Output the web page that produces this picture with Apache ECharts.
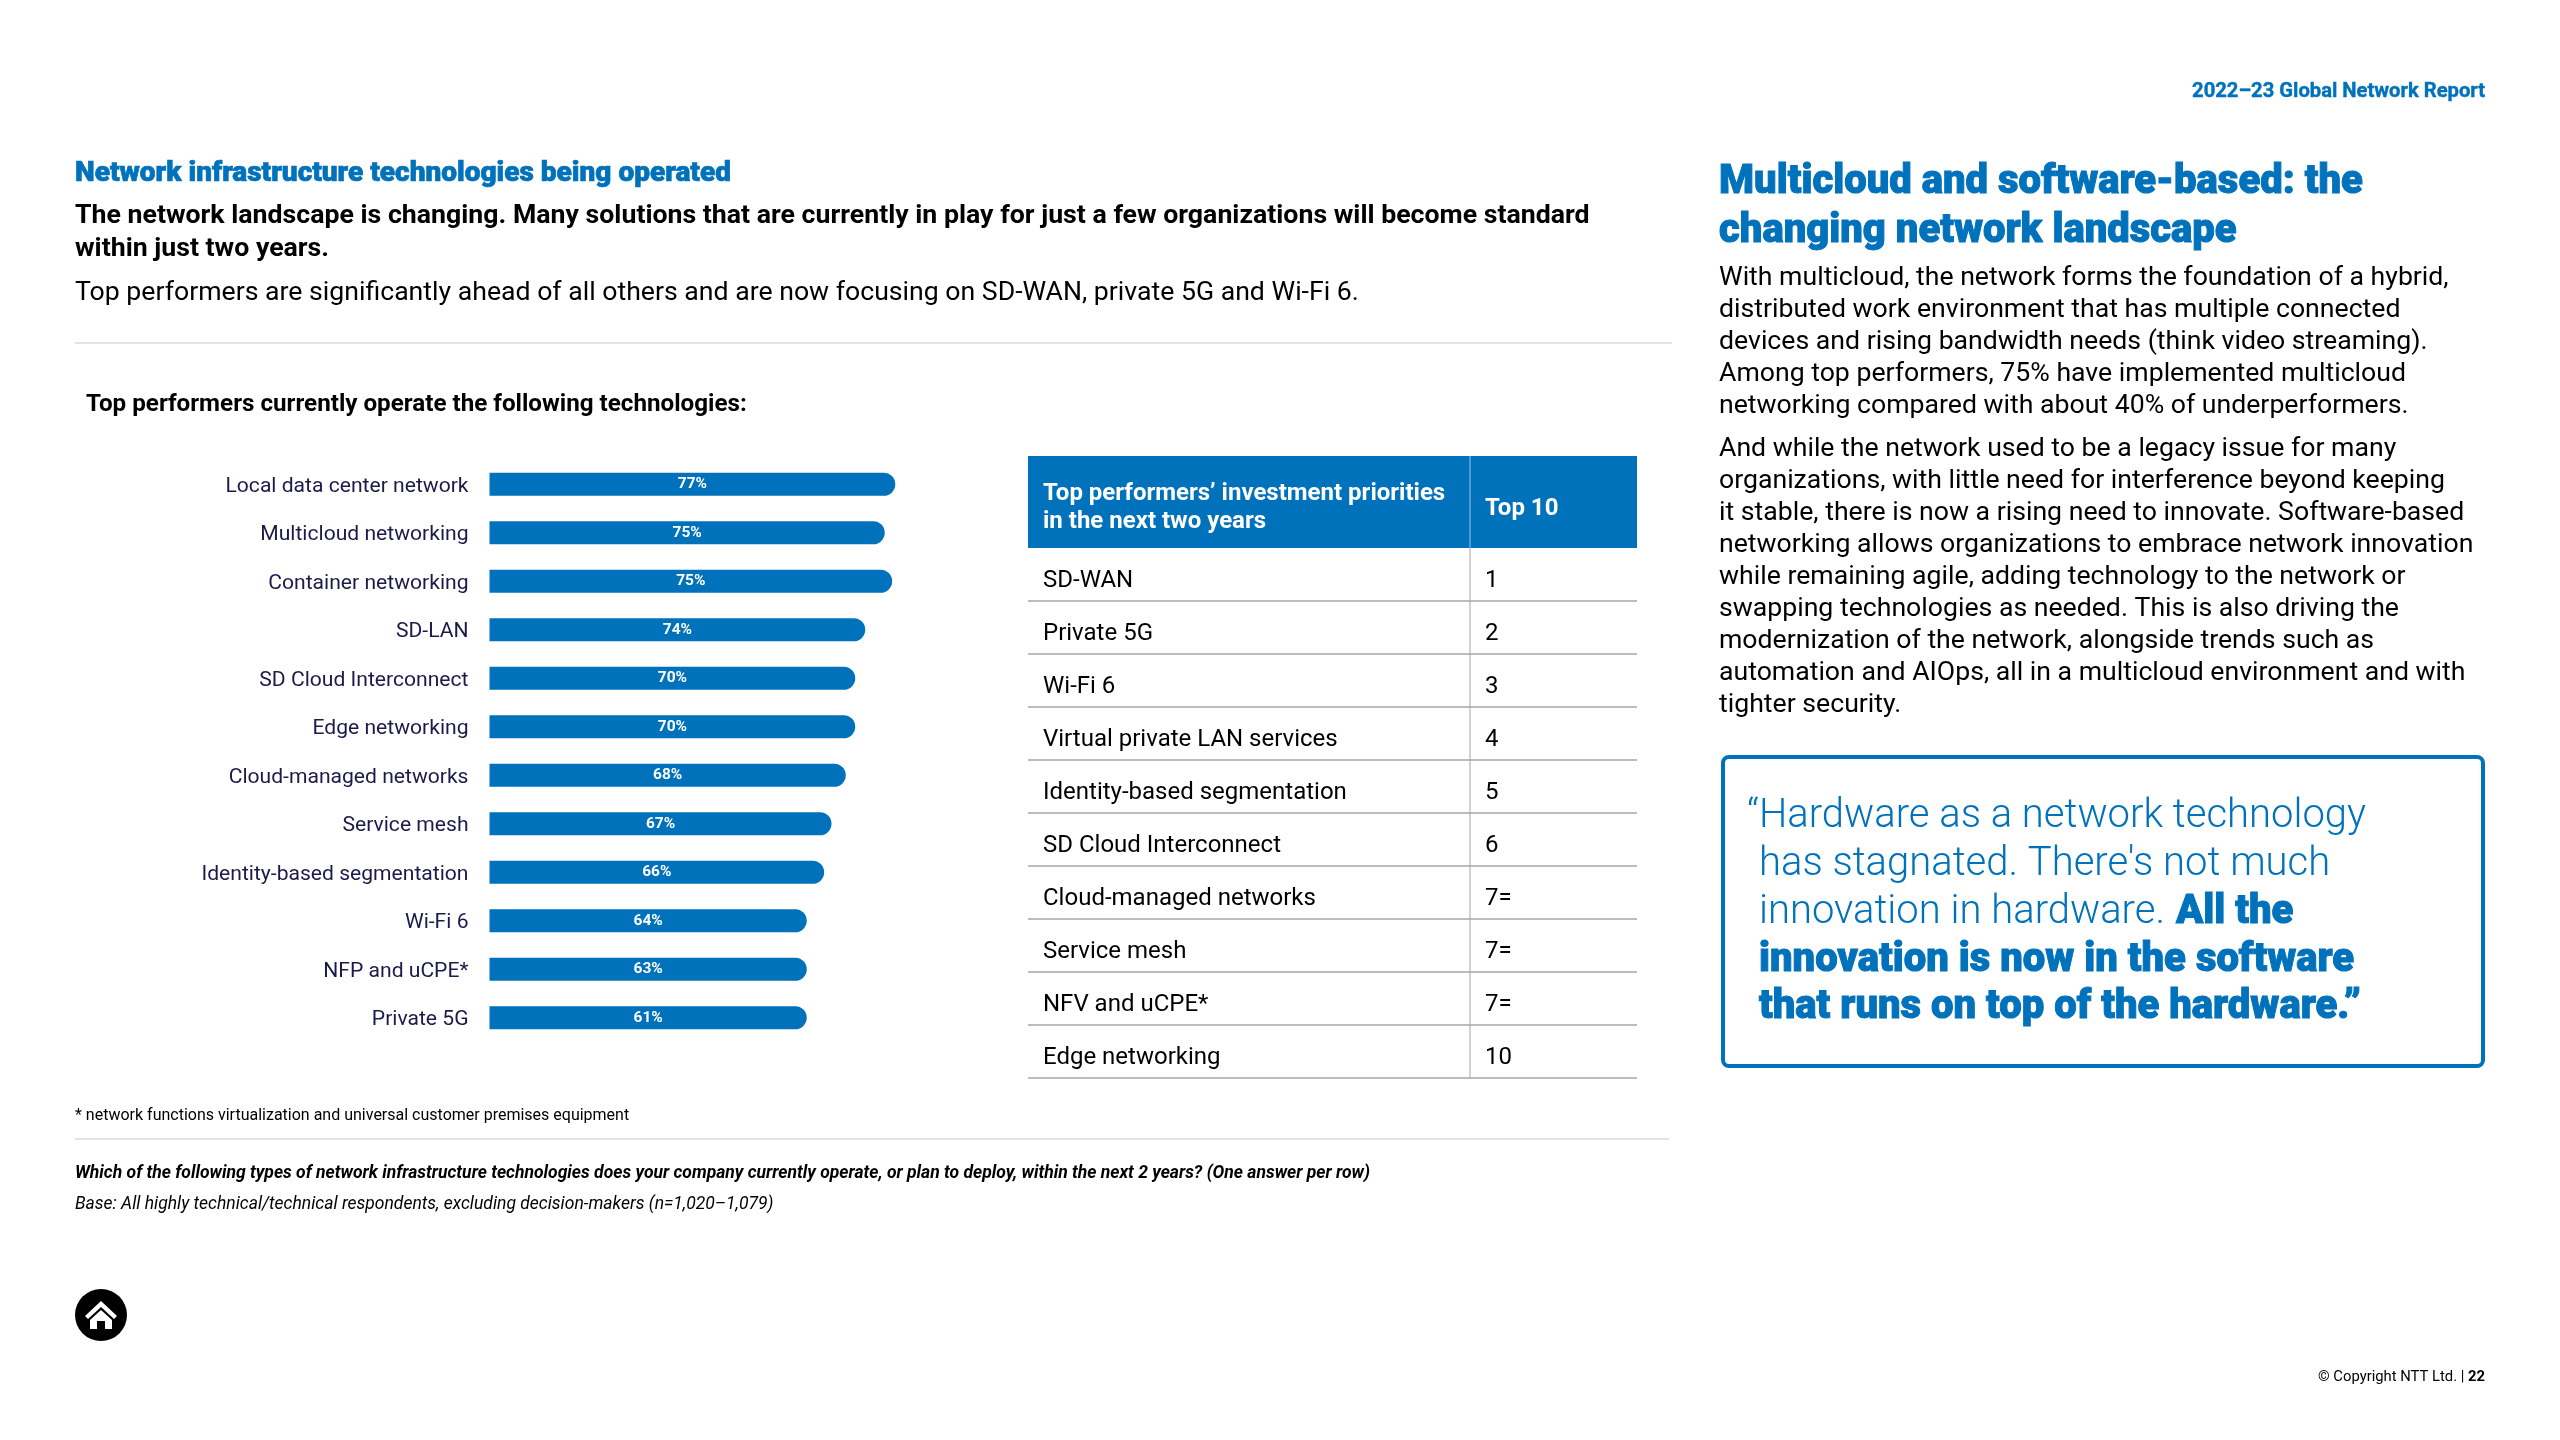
<!DOCTYPE html>
<html><head><meta charset="utf-8">
<style>html,body{margin:0;padding:0;background:#fff}#c{width:2560px;height:1440px}</style>
<script src="https://cdn.jsdelivr.net/npm/echarts@6/dist/echarts.min.js"></script>
</head><body><div id="c"></div>
<script>
const categories = ['Local data center network','Multicloud networking','Container networking','SD-LAN','SD Cloud Interconnect','Edge networking','Cloud-managed networks','Service mesh','Identity-based segmentation','Wi-Fi 6','NFP and uCPE*','Private 5G'];
const printedValues = [77,75,75,74,70,70,68,67,66,64,63,61];
const drawnLengths = [77,75,76.4,71.3,69.4,69.4,67.6,64.9,63.5,60.2,60.2,60.2];
const tableHead = ['Top performers\u2019 investment priorities\nin the next two years','Top 10'];
const tableTech = ['SD-WAN','Private 5G','Wi-Fi 6','Virtual private LAN services','Identity-based segmentation','SD Cloud Interconnect','Cloud-managed networks','Service mesh','NFV and uCPE*','Edge networking'];
const tableRank = ['1','2','3','4','5','6','7=','7=','7=','10'];
const para1 = ['With multicloud, the network forms the foundation of a hybrid,','distributed work environment that has multiple connected','devices and rising bandwidth needs (think video streaming).','Among top performers, 75% have implemented multicloud','networking compared with about 40% of underperformers.'];
const para2 = ['And while the network used to be a legacy issue for many','organizations, with little need for interference beyond keeping','it stable, there is now a rising need to innovate. Software-based','networking allows organizations to embrace network innovation','while remaining agile, adding technology to the network or','swapping technologies as needed. This is also driving the','modernization of the network, alongside trends such as','automation and AIOps, all in a multicloud environment and with','tighter security.'];

const BLUE='#0072BC', F='Roboto', DY=2.5;
const g=[];
function T(x,y,text,size,weight,color,opt){opt=opt||{};
  const st={text:text,fontFamily:F,fontSize:size,fontWeight:weight,fill:color||'#000',align:opt.align||'left',verticalAlign:'middle',fontStyle:opt.italic?'italic':'normal',rich:opt.rich};
  if(opt.heavy){st.stroke=color;st.lineWidth=opt.heavy;}
  g.push({type:'text',x:x,y:y+DY,silent:true,style:st});
}
function L(x1,y1,x2,y2,c,w){g.push({type:'line',silent:true,shape:{x1,y1,x2,y2},style:{stroke:c,lineWidth:w||1}});}

T(2485,89,'2022\u201323 Global Network Report',20.2,700,BLUE,{align:'right',heavy:0.4});
T(75,171,'Network infrastructure technologies being operated',28,900,BLUE,{heavy:0.7});
T(75,214,'The network landscape is changing. Many solutions that are currently in play for just a few organizations will become standard',26.7,700,'#000');
T(75,247,'within just two years.',26.7,700,'#000');
T(75,291,'Top performers are significantly ahead of all others and are now focusing on SD-WAN, private 5G and Wi-Fi 6.',26.65,400,'#000');
L(75,343,1672,343,'#e3e3e3',2);
T(86,402,'Top performers currently operate the following technologies:',24.2,700,'#000');

// table
const tx0=1028,tx1=1470,tx2=1637,ty0=456,ty1=548,rh=53;
g.push({type:'rect',silent:true,shape:{x:tx0,y:ty0,width:tx2-tx0,height:ty1-ty0},style:{fill:BLUE}});
L(tx1,ty0,tx1,ty1,'#9cc6e4',1);
T(tx0+15,ty0+35.5,tableHead[0].split('\n')[0],24,700,'#fff');
T(tx0+15,ty0+63.5,tableHead[0].split('\n')[1],24,700,'#fff');
T(tx1+15,ty0+50,tableHead[1],24,700,'#fff');
L(tx1,ty1,tx1,ty1+rh*tableTech.length,'#a6a6a6',1);
tableTech.forEach((t,i)=>{
  const yc=ty1+rh*i+30;
  T(tx0+15,yc,t,24,400,'#000');
  T(tx1+15,yc,tableRank[i],24,400,'#000');
  L(tx0,ty1+rh*(i+1),tx2,ty1+rh*(i+1),'#a6a6a6',1.5);
});

T(75,1113.5,'* network functions virtualization and universal customer premises equipment',16,400,'#000');
L(75,1139,1669,1139,'#e3e3e3',2);
T(75,1171,'Which of the following types of network infrastructure technologies does your company currently operate, or plan to deploy, within the next 2 years? (One answer per row)',17.53,700,'#000',{italic:true});
T(75,1202,'Base: All highly technical/technical respondents, excluding decision-makers (n=1,020\u20131,079)',17.5,400,'#000',{italic:true});

// home icon
g.push({type:'circle',silent:true,shape:{cx:101,cy:1315,r:26},style:{fill:'#000'}});
g.push({type:'polygon',silent:true,shape:{points:[[101,1301],[117,1316],[114,1319],[101,1307],[88,1319],[85,1316]]},style:{fill:'#fff'}});
g.push({type:'polygon',silent:true,shape:{points:[[101,1310],[112,1320],[112,1329],[105,1329],[105,1321],[97,1321],[97,1329],[90,1329],[90,1320]]},style:{fill:'#fff'}});

T(2485,1375,'\u00a9 Copyright NTT Ltd. | {b|22}',14.8,400,'#000',{align:'right',rich:{b:{fontFamily:F,fontSize:14.8,fontWeight:700,fill:'#000'}}});

// right column
T(1719,180,'Multicloud and software-based: the',40,900,BLUE,{heavy:1});
T(1719,229,'changing network landscape',40,900,BLUE,{heavy:1});
para1.forEach((t,i)=>T(1719,276+32*i,t,26.65,400,'#000'));
para2.forEach((t,i)=>T(1719,447+32*i,t,26.65,400,'#000'));
g.push({type:'rect',silent:true,shape:{x:1723,y:757,width:760,height:309,r:6},style:{fill:'none',stroke:BLUE,lineWidth:4}});
T(1747,814.5,'\u201cHardware as a network technology',40,300,BLUE);
T(1759,862.5,'has stagnated. There\'s not much',40,300,BLUE);
T(1759,910.5,'innovation in hardware.',40,300,BLUE);
T(2176,910.5,'All the',40,900,BLUE,{heavy:1});
T(1759,958.5,'innovation is now in the software',40,900,BLUE,{heavy:1});
T(1759,1005.5,'that runs on top of the hardware.\u201d',40,900,BLUE,{heavy:1});

const chart=echarts.init(document.getElementById('c'),null,{renderer:'canvas'});
chart.setOption({
  animation:false,
  backgroundColor:'#fff',
  textStyle:{fontFamily:F},
  grid:{left:489.5,top:460,width:527,height:582,containLabel:false},
  xAxis:{type:'value',min:0,max:100,show:false},
  yAxis:{type:'category',inverse:true,data:categories,axisLine:{show:false},axisTick:{show:false},
    axisLabel:{margin:21,fontSize:21.1,fontFamily:F,color:'#1B1B4B',verticalAlign:'top',lineHeight:4}},
  series:[{type:'bar',data:drawnLengths,barWidth:23,itemStyle:{color:BLUE,borderRadius:[0,11.5,11.5,0]},
    label:{show:true,position:'inside',color:'#fff',fontSize:15.5,fontWeight:700,fontFamily:F,
      formatter:p=>printedValues[p.dataIndex]+'%'}}],
  graphic:{elements:g}
});
</script></body></html>
